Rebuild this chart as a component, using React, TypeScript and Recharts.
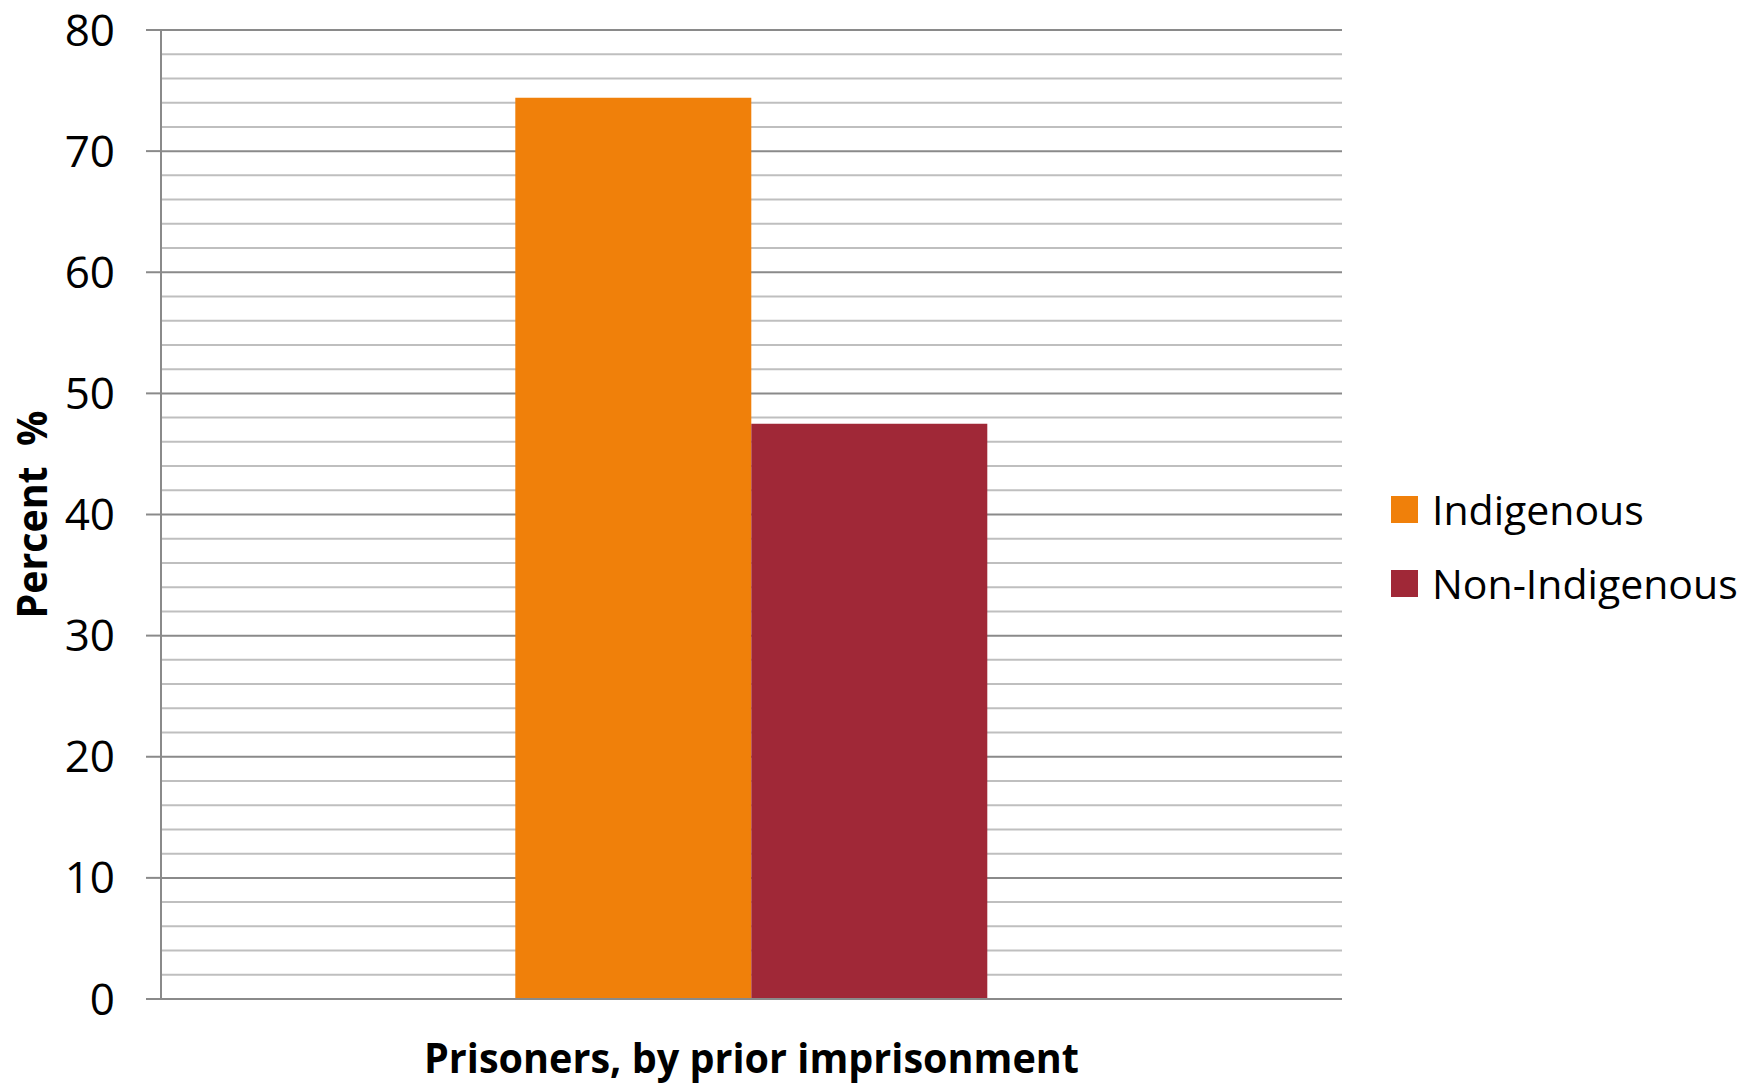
import React from "react";
import { BarChart, Bar, XAxis, YAxis, CartesianGrid, Legend } from "recharts";

// Share of prisoners with a prior imprisonment, by Indigenous status
const categories = ["Prisoners, by prior imprisonment"];
const indigenousValues = [74.4];
const nonIndigenousValues = [47.5];
const seriesNames = ["Indigenous", "Non-Indigenous"];
const yTicks = [0, 10, 20, 30, 40, 50, 60, 70, 80];
const minorGridValues = [
  2, 4, 6, 8, 12, 14, 16, 18, 22, 24, 26, 28, 32, 34, 36, 38, 42, 44, 46, 48,
  52, 54, 56, 58, 62, 64, 66, 68, 72, 74, 76, 78,
];
const yAxisTitle = "Percent  %";
const xAxisTitle = "Prisoners, by prior imprisonment";

const data = categories.map((category, i) => ({
  category,
  indigenous: indigenousValues[i],
  nonIndigenous: nonIndigenousValues[i],
}));

const FONT = "'Open Sans', 'DejaVu Sans', sans-serif";
const ORANGE = "#F0800A";
const RED = "#A02837";
const MAJOR = "#8a8a8a";
const MINOR = "#bfbfbf";

const LegendContent = (props: any) => {
  const items = props.payload || [];
  return (
    <div style={{ fontFamily: FONT }}>
      {items.map((item: any) => (
        <div
          key={item.value}
          style={{ display: "flex", alignItems: "center", height: 74 }}
        >
          <span
            style={{
              display: "inline-block",
              width: 27,
              height: 27,
              background: item.color,
              marginRight: 14,
            }}
          />
          <span style={{ fontSize: 41, color: "#000", lineHeight: "41px", whiteSpace: "nowrap" }}>
            {item.value}
          </span>
        </div>
      ))}
    </div>
  );
};

const YTitle = (props: any) => {
  const vb = props.viewBox || {};
  const x = (vb.x ?? 0) + 47;
  const y = (vb.y ?? 0) + (vb.height ?? 0) / 2;
  return (
    <text
      x={x}
      y={y}
      transform={`rotate(-90, ${x}, ${y})`}
      textAnchor="middle"
      fontFamily={FONT}
      fontWeight="bold"
      fontSize={42}
      fill="#000"
      textLength={208}
      lengthAdjust="spacingAndGlyphs"
      style={{ whiteSpace: "pre" }}
    >
      {yAxisTitle}
    </text>
  );
};

const XTitle = (props: any) => {
  const vb = props.viewBox || {};
  const x = (vb.x ?? 0) + (vb.width ?? 0) / 2;
  const y = (vb.y ?? 0) + 74;
  return (
    <text
      x={x}
      y={y}
      textAnchor="middle"
      fontFamily={FONT}
      fontWeight="bold"
      fontSize={41}
      fill="#000"
      textLength={655}
      lengthAdjust="spacingAndGlyphs"
    >
      {xAxisTitle}
    </text>
  );
};

export default function App() {
  return (
    <div style={{ position: "absolute", left: 0, top: 0, background: "#fff" }}>
      <BarChart
        width={1747}
        height={1086}
        data={data}
        margin={{ top: 30, right: 405, bottom: 0, left: 0 }}
        barCategoryGap="30%"
        barGap={0}
        style={{ fontFamily: FONT }}
      >
        <CartesianGrid
          vertical={false}
          horizontalValues={minorGridValues}
          stroke={MINOR}
          strokeWidth={2}
        />
        <CartesianGrid
          vertical={false}
          horizontalValues={yTicks}
          stroke={MAJOR}
          strokeWidth={2}
        />
        <XAxis
          dataKey="category"
          height={87}
          tick={false}
          tickLine={false}
          axisLine={{ stroke: MAJOR, strokeWidth: 2 }}
          label={{ content: XTitle }}
        />
        <YAxis
          width={161}
          domain={[0, 80]}
          ticks={yTicks}
          interval={0}
          tickSize={15}
          tickMargin={31}
          tickLine={{ stroke: MAJOR, strokeWidth: 2 }}
          axisLine={{ stroke: MAJOR, strokeWidth: 2 }}
          tick={{ fill: "#000", fontSize: 44, fontFamily: FONT }}
          label={{ content: YTitle }}
        />
        <Legend
          layout="vertical"
          align="center"
          verticalAlign="middle"
          content={LegendContent}
          wrapperStyle={{ left: 1391, top: 472, width: 356 }}
        />
        <Bar
          dataKey="indigenous"
          name={seriesNames[0]}
          fill={ORANGE}
          isAnimationActive={false}
        />
        <Bar
          dataKey="nonIndigenous"
          name={seriesNames[1]}
          fill={RED}
          isAnimationActive={false}
        />
      </BarChart>
    </div>
  );
}
